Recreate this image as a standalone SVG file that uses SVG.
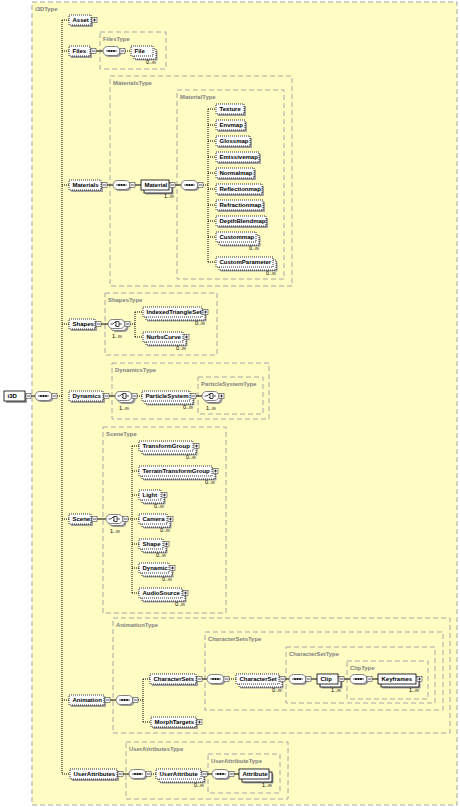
<svg xmlns="http://www.w3.org/2000/svg" width="460" height="807" viewBox="0 0 460 807">
<defs>
<style>
.tb{fill:none;stroke:#a6a6a6;stroke-width:1;stroke-dasharray:5 3}
.tl{font-family:"Liberation Sans",Arial,sans-serif;font-weight:bold;font-size:5.9px;fill:#808080}
.t{font-family:"Liberation Sans",Arial,sans-serif;font-weight:bold;font-size:6px;fill:#000}
.m{font-family:"Liberation Sans",Arial,sans-serif;font-size:5.5px;fill:#000;text-anchor:end}
.mc{font-family:"Liberation Sans",Arial,sans-serif;font-size:5.5px;fill:#000;text-anchor:middle}
.sh{fill:#a0a0a0}
.eo{fill:#fff;stroke:#000;stroke-width:0.8;stroke-dasharray:1 1}
.er{fill:#fff;stroke:#000;stroke-width:0.8}
.sb{fill:#fff;stroke:#444;stroke-width:0.6}
.sp{fill:none;stroke:#000;stroke-width:0.7}
.cs{fill:#9a9a9a}
.cp{fill:#fff;stroke:#707070;stroke-width:0.9}
.gl{fill:none;stroke:#000;stroke-width:0.7}
.ln{stroke:#000;stroke-width:1;fill:none}
.dl{stroke:#000;stroke-width:1;stroke-dasharray:1 1;fill:none}
</style>
</defs>
<rect x="0" y="0" width="460" height="807" fill="#fff"/>

<g id="types">
<g id="i3DType"><rect x="32" y="2" width="425" height="803" fill="#fffdc4" stroke="#a6a6a6" stroke-dasharray="5 3"/><text class="tl" x="35" y="10.5">i3DType</text></g>
<g id="FilesType"><rect class="tb" x="100" y="32" width="66" height="37"/><text class="tl" x="103" y="40.5">FilesType</text></g>
<g id="MaterialsType"><rect class="tb" x="110" y="76" width="182" height="210"/><text class="tl" x="113" y="84.5">MaterialsType</text></g>
<g id="MaterialType"><rect class="tb" x="177" y="90" width="107" height="189"/><text class="tl" x="180" y="98.5">MaterialType</text></g>
<g id="ShapesType"><rect class="tb" x="105" y="293" width="112" height="62"/><text class="tl" x="108" y="301.5">ShapesType</text></g>
<g id="DynamicsType"><rect class="tb" x="112" y="363" width="157" height="56"/><text class="tl" x="115" y="371.5">DynamicsType</text></g>
<g id="ParticleSystemType"><rect class="tb" x="198" y="377" width="65" height="37"/><text class="tl" x="201" y="385.5">ParticleSystemType</text></g>
<g id="SceneType"><rect class="tb" x="103" y="427" width="123" height="186"/><text class="tl" x="106" y="435.5">SceneType</text></g>
<g id="AnimationType"><rect class="tb" x="113" y="618" width="337" height="115"/><text class="tl" x="116" y="626.5">AnimationType</text></g>
<g id="CharacterSetsType"><rect class="tb" x="205" y="632" width="238" height="78"/><text class="tl" x="208" y="640.5">CharacterSetsType</text></g>
<g id="CharacterSetType"><rect class="tb" x="286" y="647" width="149" height="56"/><text class="tl" x="289" y="655.5">CharacterSetType</text></g>
<g id="ClipType"><rect class="tb" x="347" y="661" width="81" height="38"/><text class="tl" x="350" y="669.5">ClipType</text></g>
<g id="UserAttributesType"><rect class="tb" x="126" y="742" width="162" height="57"/><text class="tl" x="129" y="750.5">UserAttributesType</text></g>
<g id="UserAttributeType"><rect class="tb" x="208" y="754" width="72" height="39"/><text class="tl" x="211" y="762.5">UserAttributeType</text></g>
</g>

<g id="connectors">
<path class="ln" d="M31 396H35"/>
<path class="dl" d="M57 396H62 M62 20V774 M62 20H69 M62 51H69 M62 185H69 M62 324H69 M62 519H69 M62 700H69 M62 774H70"/>
<path class="ln" d="M96 51H103"/>
<path class="dl" d="M125 51H131"/>
<path class="ln" d="M107 185H113 M135 185H141 M175 185H181"/>
<path class="dl" d="M203 185H208 M208 109V262 M208 109H216 M208 125H216 M208 141H216 M208 157H216 M208 173H216 M208 189H216 M208 205H216 M208 221H216 M208 237H216 M208 262H216"/>
<path class="ln" d="M101 324H108"/>
<path class="dl" d="M130 324H135 M135 312V337 M135 312H143 M135 337H143"/>
<path class="ln" d="M109 396H115 M196 396H202"/>
<path class="dl" d="M137 396H142"/>
<path class="ln" d="M97 519H106"/>
<path class="dl" d="M128 519H132 M132 446V593 M132 446H139 M132 471H139 M132 495H139 M132 519H139 M132 544H139 M132 568H139 M132 593H139"/>
<path class="ln" d="M110 700H116"/>
<path class="dl" d="M138 700H143 M143 679V722 M143 679H150 M143 722H151"/>
<path class="ln" d="M202 679H207 M285 679H289 M311 679H317 M344 679H350 M372 679H378"/>
<path class="dl" d="M229 679H236"/>
<path class="ln" d="M123 774H129 M207 774H212 M234 774H239"/>
<path class="dl" d="M151 774H156"/>
</g>

<g id="i3D"><rect class="sh" x="6" y="393" width="21" height="10"/><rect class="er" x="4" y="391" width="21" height="10"/><text class="t" x="7.5" y="398">i3D</text><rect class="sb" x="26" y="393.5" width="5" height="5"/><path class="sp" d="M27 396h3"/></g>
<g id="i3D-sequence"><rect class="cs" x="36.5" y="393" width="17" height="9" rx="4.5"/><rect class="cp" x="35" y="391.5" width="17" height="9" rx="4.5"/><path class="gl" d="M38 396h11"/><circle cx="41" cy="396" r="0.9"/><circle cx="43.5" cy="396" r="0.9"/><circle cx="46" cy="396" r="0.9"/><rect class="sb" x="52" y="393.5" width="5" height="5"/><path class="sp" d="M53 396h3"/></g>

<g id="Asset"><rect class="sh" x="71" y="17" width="22" height="10"/><rect class="eo" x="69" y="15" width="22" height="10"/><text class="t" x="72.5" y="22">Asset</text><rect class="sb" x="92" y="17.5" width="5" height="5"/><path class="sp" d="M93 20h3M94.5 18.5v3"/></g>

<g id="Files"><rect class="sh" x="71" y="48" width="21" height="10"/><rect class="eo" x="69" y="46" width="21" height="10"/><text class="t" x="72.5" y="53">Files</text><rect class="sb" x="91" y="48.5" width="5" height="5"/><path class="sp" d="M92 51h3"/></g>
<g id="Files-sequence"><rect class="cs" x="104.5" y="48" width="17" height="9" rx="4.5"/><rect class="cp" x="103" y="46.5" width="17" height="9" rx="4.5"/><path class="gl" d="M106 51h11"/><circle cx="109" cy="51" r="0.9"/><circle cx="111.5" cy="51" r="0.9"/><circle cx="114" cy="51" r="0.9"/><rect class="sb" x="120" y="48.5" width="5" height="5"/><path class="sp" d="M121 51h3"/></g>
<g id="File"><rect class="sh" x="135.5" y="50.5" width="22" height="10"/><rect class="eo" x="134" y="49" width="22" height="10"/><rect class="eo" x="131" y="46" width="22" height="10"/><text class="t" x="134.5" y="53">File</text><text class="m" x="156" y="64">0..∞</text></g>

<g id="Materials"><rect class="sh" x="71" y="182" width="32" height="10"/><rect class="eo" x="69" y="180" width="32" height="10"/><text class="t" x="72.5" y="187">Materials</text><rect class="sb" x="102" y="182.5" width="5" height="5"/><path class="sp" d="M103 185h3"/></g>
<g id="Materials-sequence"><rect class="cs" x="114.5" y="182" width="17" height="9" rx="4.5"/><rect class="cp" x="113" y="180.5" width="17" height="9" rx="4.5"/><path class="gl" d="M116 185h11"/><circle cx="119" cy="185" r="0.9"/><circle cx="121.5" cy="185" r="0.9"/><circle cx="124" cy="185" r="0.9"/><rect class="sb" x="130" y="182.5" width="5" height="5"/><path class="sp" d="M131 185h3"/></g>
<g id="Material"><rect class="sh" x="145.5" y="184.5" width="28" height="10"/><rect class="er" x="144" y="183" width="28" height="10"/><rect class="er" x="141" y="180" width="28" height="10"/><text class="t" x="144.5" y="187">Material</text><rect class="sb" x="170" y="182.5" width="5" height="5"/><path class="sp" d="M171 185h3"/><text class="m" x="174" y="198">1..∞</text></g>
<g id="Material-sequence"><rect class="cs" x="182.5" y="182" width="17" height="9" rx="4.5"/><rect class="cp" x="181" y="180.5" width="17" height="9" rx="4.5"/><path class="gl" d="M184 185h11"/><circle cx="187" cy="185" r="0.9"/><circle cx="189.5" cy="185" r="0.9"/><circle cx="192" cy="185" r="0.9"/><rect class="sb" x="198" y="182.5" width="5" height="5"/><path class="sp" d="M199 185h3"/></g>

<g id="Texture"><rect class="sh" x="218" y="106" width="28" height="10"/><rect class="eo" x="216" y="104" width="28" height="10"/><text class="t" x="219.5" y="111">Texture</text></g>
<g id="Envmap"><rect class="sh" x="218" y="122" width="29" height="10"/><rect class="eo" x="216" y="120" width="29" height="10"/><text class="t" x="219.5" y="127">Envmap</text></g>
<g id="Glossmap"><rect class="sh" x="218" y="138" width="34" height="10"/><rect class="eo" x="216" y="136" width="34" height="10"/><text class="t" x="219.5" y="143">Glossmap</text></g>
<g id="Emissivemap"><rect class="sh" x="218" y="154" width="43" height="10"/><rect class="eo" x="216" y="152" width="43" height="10"/><text class="t" x="219.5" y="159">Emissivemap</text></g>
<g id="Normalmap"><rect class="sh" x="218" y="170" width="38" height="10"/><rect class="eo" x="216" y="168" width="38" height="10"/><text class="t" x="219.5" y="175">Normalmap</text></g>
<g id="Reflectionmap"><rect class="sh" x="218" y="186" width="46" height="10"/><rect class="eo" x="216" y="184" width="46" height="10"/><text class="t" x="219.5" y="191">Reflectionmap</text></g>
<g id="Refractionmap"><rect class="sh" x="218" y="202" width="47" height="10"/><rect class="eo" x="216" y="200" width="47" height="10"/><text class="t" x="219.5" y="207">Refractionmap</text></g>
<g id="DepthBlendmap"><rect class="sh" x="218" y="218" width="50" height="10"/><rect class="eo" x="216" y="216" width="50" height="10"/><text class="t" x="219.5" y="223">DepthBlendmap</text></g>
<g id="Custommap"><rect class="sh" x="220.5" y="236.5" width="40" height="10"/><rect class="eo" x="219" y="235" width="40" height="10"/><rect class="eo" x="216" y="232" width="40" height="10"/><text class="t" x="219.5" y="239">Custommap</text><text class="m" x="259" y="250">0..∞</text></g>
<g id="CustomParameter"><rect class="sh" x="220.5" y="261.5" width="57" height="10"/><rect class="eo" x="219" y="260" width="57" height="10"/><rect class="eo" x="216" y="257" width="57" height="10"/><text class="t" x="219.5" y="264">CustomParameter</text><text class="m" x="276" y="275">0..∞</text></g>

<g id="Shapes"><rect class="sh" x="71" y="321" width="26" height="10"/><rect class="eo" x="69" y="319" width="26" height="10"/><text class="t" x="72.5" y="326">Shapes</text><rect class="sb" x="96" y="321.5" width="5" height="5"/><path class="sp" d="M97 324h3"/></g>
<g id="Shapes-choice"><rect class="cs" x="111.5" y="323" width="17" height="9" rx="4.5"/><rect class="cp" x="110" y="321.5" width="17" height="9" rx="4.5"/><rect class="cp" x="108" y="319.5" width="17" height="9" rx="4.5"/><path class="gl" d="M110.5 324h2.5l2.5-2.5M116 321.5h3v5h-3zM119 324h3M115 322.5h1M115 325.5h1"/><rect class="sb" x="125" y="321.5" width="5" height="5"/><path class="sp" d="M126 324h3"/><text class="mc" x="117" y="337.5">1..∞</text></g>
<g id="IndexedTriangleSet"><rect class="sh" x="147.5" y="311.5" width="59" height="10"/><rect class="eo" x="146" y="310" width="59" height="10"/><rect class="eo" x="143" y="307" width="59" height="10"/><text class="t" x="146.5" y="314">IndexedTriangleSet</text><rect class="sb" x="203" y="309.5" width="5" height="5"/><path class="sp" d="M204 312h3M205.5 310.5v3"/><text class="m" x="205" y="325">0..∞</text></g>
<g id="NurbsCurve"><rect class="sh" x="147.5" y="336.5" width="40" height="10"/><rect class="eo" x="146" y="335" width="40" height="10"/><rect class="eo" x="143" y="332" width="40" height="10"/><text class="t" x="146.5" y="339">NurbsCurve</text><rect class="sb" x="184" y="334.5" width="5" height="5"/><path class="sp" d="M185 337h3M186.5 335.5v3"/><text class="m" x="186" y="350">0..∞</text></g>

<g id="Dynamics"><rect class="sh" x="71" y="393" width="34" height="10"/><rect class="eo" x="69" y="391" width="34" height="10"/><text class="t" x="72.5" y="398">Dynamics</text><rect class="sb" x="104" y="393.5" width="5" height="5"/><path class="sp" d="M105 396h3"/></g>
<g id="Dynamics-choice"><rect class="cs" x="118.5" y="395" width="17" height="9" rx="4.5"/><rect class="cp" x="117" y="393.5" width="17" height="9" rx="4.5"/><rect class="cp" x="115" y="391.5" width="17" height="9" rx="4.5"/><path class="gl" d="M117.5 396h2.5l2.5-2.5M123 393.5h3v5h-3zM126 396h3M122 394.5h1M122 397.5h1"/><rect class="sb" x="132" y="393.5" width="5" height="5"/><path class="sp" d="M133 396h3"/><text class="mc" x="124" y="409.5">1..∞</text></g>
<g id="ParticleSystem"><rect class="sh" x="146.5" y="395.5" width="48" height="10"/><rect class="eo" x="145" y="394" width="48" height="10"/><rect class="eo" x="142" y="391" width="48" height="10"/><text class="t" x="145.5" y="398">ParticleSystem</text><rect class="sb" x="191" y="393.5" width="5" height="5"/><path class="sp" d="M192 396h3"/><text class="m" x="193" y="409">0..∞</text></g>
<g id="ParticleSystem-choice"><rect class="cs" x="205.5" y="395" width="17" height="9" rx="4.5"/><rect class="cp" x="204" y="393.5" width="17" height="9" rx="4.5"/><rect class="cp" x="202" y="391.5" width="17" height="9" rx="4.5"/><path class="gl" d="M204.5 396h2.5l2.5-2.5M210 393.5h3v5h-3zM213 396h3M209 394.5h1M209 397.5h1"/><rect class="sb" x="219" y="393.5" width="5" height="5"/><path class="sp" d="M220 396h3M221.5 394.5v3"/><text class="mc" x="211" y="409.5">1..∞</text></g>

<g id="Scene"><rect class="sh" x="71" y="516" width="22" height="10"/><rect class="eo" x="69" y="514" width="22" height="10"/><text class="t" x="72.5" y="521">Scene</text><rect class="sb" x="92" y="516.5" width="5" height="5"/><path class="sp" d="M93 519h3"/></g>
<g id="Scene-choice"><rect class="cs" x="109.5" y="518" width="17" height="9" rx="4.5"/><rect class="cp" x="108" y="516.5" width="17" height="9" rx="4.5"/><rect class="cp" x="106" y="514.5" width="17" height="9" rx="4.5"/><path class="gl" d="M108.5 519h2.5l2.5-2.5M114 516.5h3v5h-3zM117 519h3M113 517.5h1M113 520.5h1"/><rect class="sb" x="123" y="516.5" width="5" height="5"/><path class="sp" d="M124 519h3"/><text class="mc" x="115" y="532.5">1..∞</text></g>
<g id="TransformGroup"><rect class="sh" x="143.5" y="445.5" width="54" height="10"/><rect class="eo" x="142" y="444" width="54" height="10"/><rect class="eo" x="139" y="441" width="54" height="10"/><text class="t" x="142.5" y="448">TransformGroup</text><rect class="sb" x="194" y="443.5" width="5" height="5"/><path class="sp" d="M195 446h3M196.5 444.5v3"/><text class="m" x="196" y="459">0..∞</text></g>
<g id="TerrainTransformGroup"><rect class="sh" x="143.5" y="470.5" width="73" height="10"/><rect class="eo" x="142" y="469" width="73" height="10"/><rect class="eo" x="139" y="466" width="73" height="10"/><text class="t" x="142.5" y="473">TerrainTransformGroup</text><rect class="sb" x="213" y="468.5" width="5" height="5"/><path class="sp" d="M214 471h3M215.5 469.5v3"/><text class="m" x="215" y="484">0..∞</text></g>
<g id="Light"><rect class="sh" x="143.5" y="494.5" width="22" height="10"/><rect class="eo" x="142" y="493" width="22" height="10"/><rect class="eo" x="139" y="490" width="22" height="10"/><text class="t" x="142.5" y="497">Light</text><rect class="sb" x="162" y="492.5" width="5" height="5"/><path class="sp" d="M163 495h3M164.5 493.5v3"/><text class="m" x="164" y="508">0..∞</text></g>
<g id="Camera"><rect class="sh" x="143.5" y="518.5" width="28" height="10"/><rect class="eo" x="142" y="517" width="28" height="10"/><rect class="eo" x="139" y="514" width="28" height="10"/><text class="t" x="142.5" y="521">Camera</text><rect class="sb" x="168" y="516.5" width="5" height="5"/><path class="sp" d="M169 519h3M170.5 517.5v3"/><text class="m" x="170" y="532">0..∞</text></g>
<g id="Shape"><rect class="sh" x="143.5" y="543.5" width="24" height="10"/><rect class="eo" x="142" y="542" width="24" height="10"/><rect class="eo" x="139" y="539" width="24" height="10"/><text class="t" x="142.5" y="546">Shape</text><rect class="sb" x="164" y="541.5" width="5" height="5"/><path class="sp" d="M165 544h3M166.5 542.5v3"/><text class="m" x="166" y="557">0..∞</text></g>
<g id="Dynamic"><rect class="sh" x="143.5" y="567.5" width="30" height="10"/><rect class="eo" x="142" y="566" width="30" height="10"/><rect class="eo" x="139" y="563" width="30" height="10"/><text class="t" x="142.5" y="570">Dynamic</text><rect class="sb" x="170" y="565.5" width="5" height="5"/><path class="sp" d="M171 568h3M172.5 566.5v3"/><text class="m" x="172" y="581">0..∞</text></g>
<g id="AudioSource"><rect class="sh" x="143.5" y="592.5" width="43" height="10"/><rect class="eo" x="142" y="591" width="43" height="10"/><rect class="eo" x="139" y="588" width="43" height="10"/><text class="t" x="142.5" y="595">AudioSource</text><rect class="sb" x="183" y="590.5" width="5" height="5"/><path class="sp" d="M184 593h3M185.5 591.5v3"/><text class="m" x="185" y="606">0..∞</text></g>

<g id="Animation"><rect class="sh" x="71" y="697" width="35" height="10"/><rect class="eo" x="69" y="695" width="35" height="10"/><text class="t" x="72.5" y="702">Animation</text><rect class="sb" x="105" y="697.5" width="5" height="5"/><path class="sp" d="M106 700h3"/></g>
<g id="Animation-sequence"><rect class="cs" x="117.5" y="697" width="17" height="9" rx="4.5"/><rect class="cp" x="116" y="695.5" width="17" height="9" rx="4.5"/><path class="gl" d="M119 700h11"/><circle cx="122" cy="700" r="0.9"/><circle cx="124.5" cy="700" r="0.9"/><circle cx="127" cy="700" r="0.9"/><rect class="sb" x="133" y="697.5" width="5" height="5"/><path class="sp" d="M134 700h3"/></g>
<g id="CharacterSets"><rect class="sh" x="152" y="676" width="46" height="10"/><rect class="eo" x="150" y="674" width="46" height="10"/><text class="t" x="153.5" y="681">CharacterSets</text><rect class="sb" x="197" y="676.5" width="5" height="5"/><path class="sp" d="M198 679h3"/></g>
<g id="CharacterSets-sequence"><rect class="cs" x="208.5" y="676" width="17" height="9" rx="4.5"/><rect class="cp" x="207" y="674.5" width="17" height="9" rx="4.5"/><path class="gl" d="M210 679h11"/><circle cx="213" cy="679" r="0.9"/><circle cx="215.5" cy="679" r="0.9"/><circle cx="218" cy="679" r="0.9"/><rect class="sb" x="224" y="676.5" width="5" height="5"/><path class="sp" d="M225 679h3"/></g>
<g id="CharacterSet"><rect class="sh" x="240.5" y="678.5" width="43" height="10"/><rect class="eo" x="239" y="677" width="43" height="10"/><rect class="eo" x="236" y="674" width="43" height="10"/><text class="t" x="239.5" y="681">CharacterSet</text><rect class="sb" x="280" y="676.5" width="5" height="5"/><path class="sp" d="M281 679h3"/><text class="m" x="282" y="692">0..∞</text></g>
<g id="CharacterSet-sequence"><rect class="cs" x="290.5" y="676" width="17" height="9" rx="4.5"/><rect class="cp" x="289" y="674.5" width="17" height="9" rx="4.5"/><path class="gl" d="M292 679h11"/><circle cx="295" cy="679" r="0.9"/><circle cx="297.5" cy="679" r="0.9"/><circle cx="300" cy="679" r="0.9"/><rect class="sb" x="306" y="676.5" width="5" height="5"/><path class="sp" d="M307 679h3"/></g>
<g id="Clip"><rect class="sh" x="321.5" y="678.5" width="21" height="10"/><rect class="er" x="320" y="677" width="21" height="10"/><rect class="er" x="317" y="674" width="21" height="10"/><text class="t" x="320.5" y="681">Clip</text><rect class="sb" x="339" y="676.5" width="5" height="5"/><path class="sp" d="M340 679h3"/><text class="m" x="341" y="692">1..∞</text></g>
<g id="Clip-sequence"><rect class="cs" x="351.5" y="676" width="17" height="9" rx="4.5"/><rect class="cp" x="350" y="674.5" width="17" height="9" rx="4.5"/><path class="gl" d="M353 679h11"/><circle cx="356" cy="679" r="0.9"/><circle cx="358.5" cy="679" r="0.9"/><circle cx="361" cy="679" r="0.9"/><rect class="sb" x="367" y="676.5" width="5" height="5"/><path class="sp" d="M368 679h3"/></g>
<g id="Keyframes"><rect class="sh" x="382.5" y="678.5" width="38" height="10"/><rect class="er" x="381" y="677" width="38" height="10"/><rect class="er" x="378" y="674" width="38" height="10"/><text class="t" x="381.5" y="681">Keyframes</text><rect class="sb" x="417" y="676.5" width="5" height="5"/><path class="sp" d="M418 679h3M419.5 677.5v3"/><text class="m" x="419" y="692">1..∞</text></g>
<g id="MorphTargets"><rect class="sh" x="153" y="719" width="45" height="10"/><rect class="eo" x="151" y="717" width="45" height="10"/><text class="t" x="154.5" y="724">MorphTargets</text><rect class="sb" x="197" y="719.5" width="5" height="5"/><path class="sp" d="M198 722h3M199.5 720.5v3"/></g>

<g id="UserAttributes"><rect class="sh" x="72" y="771" width="47" height="10"/><rect class="eo" x="70" y="769" width="47" height="10"/><text class="t" x="73.5" y="776">UserAttributes</text><rect class="sb" x="118" y="771.5" width="5" height="5"/><path class="sp" d="M119 774h3"/></g>
<g id="UserAttributes-sequence"><rect class="cs" x="130.5" y="771" width="17" height="9" rx="4.5"/><rect class="cp" x="129" y="769.5" width="17" height="9" rx="4.5"/><path class="gl" d="M132 774h11"/><circle cx="135" cy="774" r="0.9"/><circle cx="137.5" cy="774" r="0.9"/><circle cx="140" cy="774" r="0.9"/><rect class="sb" x="146" y="771.5" width="5" height="5"/><path class="sp" d="M147 774h3"/></g>
<g id="UserAttribute"><rect class="sh" x="160.5" y="773.5" width="45" height="10"/><rect class="eo" x="159" y="772" width="45" height="10"/><rect class="eo" x="156" y="769" width="45" height="10"/><text class="t" x="159.5" y="776">UserAttribute</text><rect class="sb" x="202" y="771.5" width="5" height="5"/><path class="sp" d="M203 774h3"/><text class="m" x="204" y="787">0..∞</text></g>
<g id="UserAttribute-sequence"><rect class="cs" x="213.5" y="771" width="17" height="9" rx="4.5"/><rect class="cp" x="212" y="769.5" width="17" height="9" rx="4.5"/><path class="gl" d="M215 774h11"/><circle cx="218" cy="774" r="0.9"/><circle cx="220.5" cy="774" r="0.9"/><circle cx="223" cy="774" r="0.9"/><rect class="sb" x="229" y="771.5" width="5" height="5"/><path class="sp" d="M230 774h3"/></g>
<g id="Attribute"><rect class="sh" x="243.5" y="773.5" width="30" height="10"/><rect class="er" x="242" y="772" width="30" height="10"/><rect class="er" x="239" y="769" width="30" height="10"/><text class="t" x="242.5" y="776">Attribute</text><text class="m" x="272" y="787">1..∞</text></g>
</svg>
